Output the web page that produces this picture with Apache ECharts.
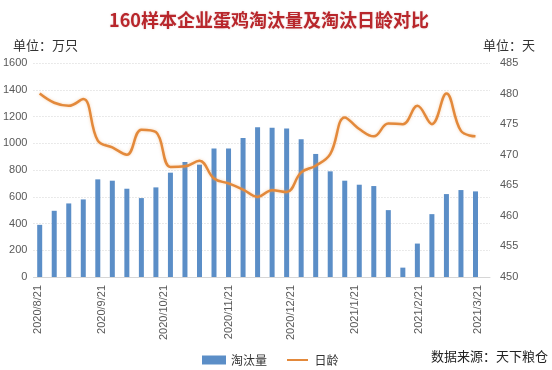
<!DOCTYPE html>
<html>
<head>
<meta charset="utf-8">
<script src="https://cdn.jsdelivr.net/npm/echarts@6/dist/echarts.min.js"></script>
<style>
html,body{margin:0;padding:0;background:#fff;}
#c{width:552px;height:370px;}
</style>
</head>
<body>
<div id="c"></div>
<script>
// weekly observation dates
var dates = ['2020/8/22','2020/8/29','2020/9/5','2020/9/12','2020/9/19','2020/9/26','2020/10/3','2020/10/10','2020/10/17','2020/10/24','2020/10/31','2020/11/7','2020/11/14','2020/11/21','2020/11/28','2020/12/5','2020/12/12','2020/12/19','2020/12/26','2021/1/2','2021/1/9','2021/1/16','2021/1/23','2021/1/30','2021/2/6','2021/2/13','2021/2/20','2021/2/27','2021/3/6','2021/3/13','2021/3/20'];
// 淘汰量 (万只)
var cullVolume = [390,495,550,580,730,720,660,590,670,780,860,840,960,960,1040,1120,1115,1110,1030,920,790,720,690,680,500,70,250,470,620,650,640];
// 日龄 (天)
var cullAge = [480.0,478.5,478.0,479.1,472.3,471.2,470.0,474.1,473.7,468.0,468.1,469.0,466.1,465.3,464.3,463.1,464.2,463.9,467.1,468.2,470.1,476.1,474.2,473.0,475.1,475.0,478.0,475.0,480.0,473.9,473.0];
// x-axis tick labels
var xTickLabels = ['2020/8/21','2020/9/21','2020/10/21','2020/11/21','2020/12/21','2021/1/21','2021/2/21','2021/3/21'];
var xStart = '2020/8/19', xEnd = '2021/3/27';
var leftTicks = {min:0, max:1600, interval:200};
var rightTicks = {min:450, max:485, interval:5};

function toTime(s){ var p = s.split('/'); return Date.UTC(+p[0], +p[1]-1, +p[2]); }
function dayOf(s){ return Math.round((toTime(s) - toTime(xStart)) / 86400000); }
var labelByDay = {};
xTickLabels.forEach(function(s){ labelByDay[dayOf(s)] = s; });

var chart = echarts.init(document.getElementById('c'), null, {renderer:'canvas'});
var font = 'Noto Sans CJK SC, Liberation Sans, sans-serif';
var barData = dates.map(function(d,i){ return [dayOf(d), cullVolume[i]]; });
var lineData = dates.map(function(d,i){ return [dayOf(d), cullAge[i]]; });
var lineIcon = 'path://M0,0L0.01,0L0.01,0.01Z M0,3.6L21,3.6L21,5.6L0,5.6Z M0,9L0.01,9L0.01,8.99Z';

chart.setOption({
  animation:false,
  backgroundColor:'#ffffff',
  textStyle:{fontFamily:font},
  title:{
    text:'160样本企业蛋鸡淘汰量及淘汰日龄对比',
    left:264, top:6, textAlign:'center',
    textStyle:{fontSize:18, fontWeight:'bold', color:'#b8262b', fontFamily:font,
      textShadowColor:'rgba(150,30,30,0.25)', textShadowBlur:2}
  },
  grid:{left:33, right:62, top:63, bottom:93},
  legend:{
    left:197, top:349, itemGap:20, itemHeight:9,
    textStyle:{fontSize:12, color:'#333', fontFamily:font},
    data:[{name:'淘汰量', icon:'rect', itemWidth:27}, {name:'日龄', icon:lineIcon, itemWidth:21}],
    itemWidth:24
  },
  graphic:[
    {type:'text', left:13, top:39, style:{text:'单位：万只', font:'13px '+font, fill:'#333'}},
    {type:'text', right:17, top:39, style:{text:'单位：天', font:'13px '+font, fill:'#333'}},
    {type:'text', right:4, top:350, style:{text:'数据来源：天下粮仓', font:'13px '+font, fill:'#222'}}
  ],
  xAxis:{
    type:'value',
    min:0, max:dayOf(xEnd),
    axisLine:{show:true, onZero:false, lineStyle:{color:'#d6d6d6', width:1}},
    axisTick:{show:false},
    splitLine:{show:false},
    axisLabel:{
      customValues: xTickLabels.map(dayOf),
      rotate:90, margin:8, fontSize:11, color:'#595959',
      fontFamily:'Liberation Sans, sans-serif',
      formatter:function(v){ return labelByDay[Math.round(v)] || ''; }
    }
  },
  yAxis:[
    {type:'value', min:leftTicks.min, max:leftTicks.max, interval:leftTicks.interval,
     axisLine:{show:false}, axisTick:{show:false},
     axisLabel:{fontSize:11, color:'#595959', margin:6, fontFamily:'Liberation Sans, sans-serif',
       formatter:function(v){ return String(v); }},
     splitLine:{show:true, lineStyle:{color:'#d4d4d4', type:[1,2], width:1}}},
    {type:'value', min:rightTicks.min, max:rightTicks.max, interval:rightTicks.interval,
     axisLine:{show:false}, axisTick:{show:false},
     axisLabel:{fontSize:11, color:'#595959', margin:10, fontFamily:'Liberation Sans, sans-serif',
       formatter:function(v){ return String(v); }},
     splitLine:{show:false}}
  ],
  series:[
    {name:'淘汰量', type:'bar', yAxisIndex:0, data:barData, barWidth:5,
     itemStyle:{color:'#5b8ec7'}},
    {name:'日龄', type:'line', yAxisIndex:1, data:lineData, smooth:0.4,
     symbol:'none', showSymbol:false,
     lineStyle:{color:'#e3893b', width:2.5, shadowColor:'rgba(240,170,100,0.5)', shadowBlur:3},
     itemStyle:{color:'#e3893b'}}
  ]
});
</script>
</body>
</html>
